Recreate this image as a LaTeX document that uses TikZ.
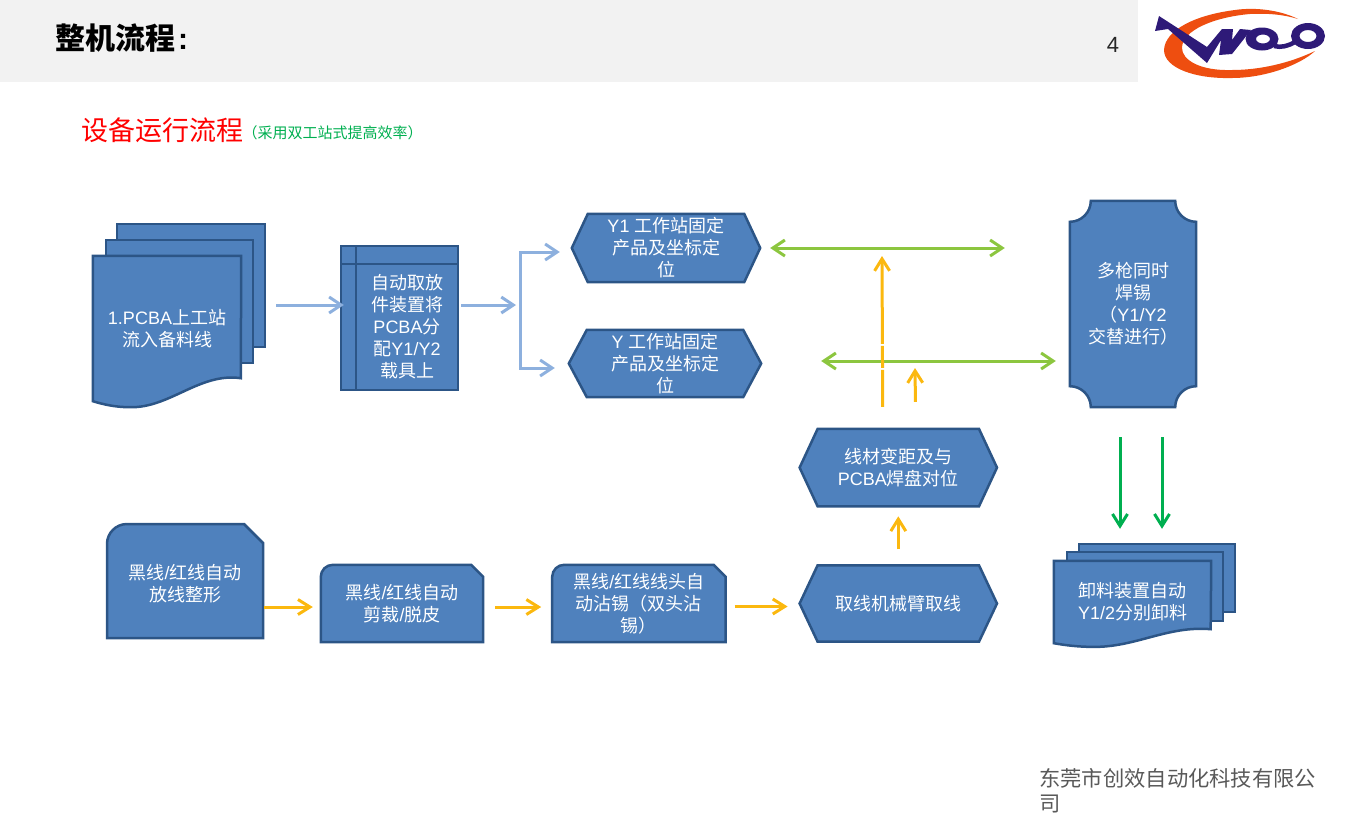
\documentclass[tikz,border=0pt]{standalone}
\usepackage{fontspec}
\usepackage{xcolor}
\setmainfont{Liberation Sans}
\newfontfamily\cjkfont{Noto Sans CJK SC}
\usetikzlibrary{arrows.meta, positioning, calc, backgrounds}
\definecolor{boxfill}{HTML}{4F81BD}
\definecolor{boxline}{HTML}{2C5586}
\definecolor{paleblue}{HTML}{8DB0DE}
\definecolor{limegreen}{HTML}{8CC63F}
\definecolor{deepgreen}{HTML}{00AF50}
\definecolor{amber}{HTML}{FBB80F}
\definecolor{logored}{HTML}{EE4E10}
\definecolor{logopurple}{HTML}{2E1A78}
\newcommand{\zh}[1]{{\cjkfont #1}}
\newcommand{\hexshape}[2]{\draw[shapebox] (#1.west) -- ([xshift=#2]#1.north west) -- ([xshift=-#2]#1.north east) -- (#1.east) -- ([xshift=-#2]#1.south east) -- ([xshift=#2]#1.south west) -- cycle;}
\newcommand{\snipshape}[3]{\draw[shapebox] (#1.south west) [rounded corners=#2] -- (#1.north west) [sharp corners] -- ([xshift=-#3]#1.north east) -- ([yshift=-#3]#1.north east) -- (#1.south east) -- cycle;}
\newcommand{\docshape}[3]{\begin{scope}[shift={(#1.south west)},xscale=#2,yscale=#3]
\draw[shapebox] (#1.south west) -- (#1.north west) -- (#1.north east) -- (148,-23) .. controls (107,-29) and (77,7) .. (37,6) .. controls (22,6) and (10,3) .. (#1.south west) -- cycle;
\end{scope}}
\begin{document}
\begin{tikzpicture}[
  x=1pt, y=-1pt,
  flowbox/.style={rectangle, inner sep=0pt, align=center, text=white, font=\fontsize{18}{22}\selectfont},
  shapebox/.style={draw=boxline, fill=boxfill, line width=2.5pt, line join=miter},
  blueflow/.style={draw=paleblue, line width=3pt, -{Straight Barb[length=12pt,width=16pt]}},
  amberflow/.style={draw=amber, line width=3pt, -{Straight Barb[length=12pt,width=15pt]}},
  limeflow/.style={draw=limegreen, line width=3pt, {Straight Barb[length=12pt,width=16pt]}-{Straight Barb[length=12pt,width=16pt]}},
  greenflow/.style={draw=deepgreen, line width=3pt, -{Straight Barb[length=12pt,width=15pt]}},
]
\useasboundingbox (0,0) rectangle (1370,815);
\fill[gray!10] (0,0) rectangle (1138,82);
\node[anchor=west, inner sep=0pt, font=\fontsize{30}{36}\selectfont\bfseries] (title) at (55,38) {\zh{整机流程}\kern3pt:};
\node[inner sep=0pt, text=black!85, font=\fontsize{22}{26}\selectfont] (pageno) at (1113,45) {4};
\node[anchor=west, inner sep=0pt, text=red, font=\fontsize{27}{32}\selectfont] (runtitle) at (81,130) {\zh{设备运行流程}};
\node[inner sep=0pt, text=deepgreen, font=\fontsize{15}{18}\selectfont, right=-1pt of runtitle, yshift=-3pt] (runnote) {\zh{（采用双工站式提高效率）}};
\node[anchor=north west, inner sep=0pt, align=left, text=black!65, font=\fontsize{21.3}{25}\selectfont] (company) at (1039,768) {\zh{东莞市创效自动化科技有限公}\\\zh{司}};

\node[flowbox, minimum width=148pt, minimum height=145pt] (pcba) at (167,328.5) {1.PCBA\zh{上工站}\\\zh{流入备料线}};
\node[flowbox, minimum width=102pt, minimum height=126pt] (alloc) at (407,327) {\zh{自动取放}\\\zh{件装置将}\\PCBA\zh{分}\\\zh{配}Y1/Y2\\\zh{载具上}};
\node[flowbox, minimum width=188pt, minimum height=68pt] (yone) at (666,248) {Y1 \zh{工作站固定}\\\zh{产品及坐标定}\\\zh{位}};
\node[flowbox, minimum width=192pt, minimum height=67pt] (ytwo) at (665,363.5) {Y \zh{工作站固定}\\\zh{产品及坐标定}\\\zh{位}};
\node[flowbox, minimum width=126pt, minimum height=206pt] (solder) at (1133,304) {\zh{多枪同时}\\\zh{焊锡}\\\zh{（}Y1/Y2\\\zh{交替进行）}};
\node[flowbox, minimum width=156pt, minimum height=114pt] (shape) at (185,584) {\zh{黑线}/\zh{红线自动}\\\zh{放线整形}};
\node[flowbox, minimum width=162pt, minimum height=77pt] (cut) at (402,603.5) {\zh{黑线}/\zh{红线自动}\\\zh{剪裁}/\zh{脱皮}};
\node[flowbox, minimum width=173pt, minimum height=77pt, right=69pt of cut] (dip) {\zh{黑线}/\zh{红线线头自}\\\zh{动沾锡（双头沾}\\\zh{锡）}};
\node[flowbox, minimum width=197pt, minimum height=76pt, right=74pt of dip] (pick) {\zh{取线机械臂取线}};
\node[flowbox, minimum width=197pt, minimum height=77pt, above=59pt of pick] (wire) {\zh{线材变距及与}\\PCBA\zh{焊盘对位}};
\node[flowbox, minimum width=157pt, minimum height=82pt] (unload) at (1132.5,602) {\zh{卸料装置自动}\\Y1/2\zh{分别卸料}};

\begin{scope}[on background layer]
\draw[shapebox] (117,224) rectangle (265,347);
\draw[shapebox] (106,240) rectangle (253,363);
\docshape{pcba}{1}{1}
\draw[shapebox] ([xshift=-15pt,yshift=18pt]alloc.north west) rectangle (alloc.south east);
\draw[boxline, line width=2.5pt] ([yshift=18pt]alloc.north west) -- (alloc.south west);
\draw[boxline, line width=2.5pt] ([xshift=-15pt]alloc.north west) -- (alloc.north east);
\hexshape{yone}{16pt}
\hexshape{ytwo}{18pt}
\draw[shapebox] ([yshift=-21pt]solder.north west) arc[start angle=-90, end angle=0, radius=21pt] -- ([xshift=-21pt]solder.north east) arc[start angle=180, end angle=270, radius=21pt] -- ([yshift=21pt]solder.south east) arc[start angle=90, end angle=180, radius=21pt] -- ([xshift=21pt]solder.south west) arc[start angle=0, end angle=90, radius=21pt] -- cycle;
\draw[shapebox] (107,638) [rounded corners=20pt] -- (107,524) [sharp corners] -- (244,524) -- (263,543) -- (263,638) -- cycle;
\snipshape{cut}{12pt}{12pt}
\snipshape{dip}{12pt}{12pt}
\hexshape{pick}{18pt}
\hexshape{wire}{18pt}
\draw[shapebox] (1079,544) rectangle (1235,612);
\draw[shapebox] (1067,552) rectangle (1223,621);
\docshape{unload}{1.06}{0.61}
\end{scope}

\coordinate (bus) at (520,305);
\coordinate (railtop) at (882,256);
\coordinate (railmid) at (915,368);
\draw[blueflow, shorten <=35pt, shorten >=12pt] ([yshift=23.5pt]pcba.east) -- ([yshift=22pt]alloc.west);
\draw[blueflow, shorten <=3pt, shorten >=4pt] ([yshift=22pt]alloc.east) -- (bus);
\draw[blueflow, shorten >=12pt] (bus) |- ([yshift=-4pt]yone.west);
\draw[blueflow, shorten >=14pt] (bus) |- ([yshift=-4.5pt]ytwo.west);
\draw[limeflow, shorten <=10pt, shorten >=65pt] (yone.east) -- (yone.east -| solder.west);
\draw[limeflow, shorten <=60pt, shorten >=14pt] ([yshift=2.5pt]ytwo.east) -- ([yshift=2.5pt]ytwo.east -| solder.west);
\draw[amberflow, shorten <=22pt, dash pattern=on 37pt off 2pt on 22pt off 2pt on 200pt] ([xshift=-15.5pt]wire.north) -- (railtop);
\draw[amberflow, shorten <=27pt] ([xshift=17.5pt]wire.north) -- (railmid);
\draw[amberflow, shorten <=1pt, shorten >=8pt] ([yshift=-23pt]shape.east) -- ([yshift=-3.5pt]cut.west);
\draw[amberflow, shorten <=12pt, shorten >=11pt] ([yshift=-3.5pt]cut.east) -- ([yshift=-3.5pt]dip.west);
\draw[amberflow, shorten <=9pt, shorten >=12pt] ([yshift=-3pt]dip.east) -- ([yshift=-3pt]pick.west);
\draw[amberflow, shorten <=16pt, shorten >=10pt] (pick.north) -- (wire.south);
\draw[greenflow, shorten <=30pt, shorten >=32pt] ([xshift=-13pt]solder.south) -- ([xshift=-12.5pt]unload.north);
\draw[greenflow, shorten <=30pt, shorten >=32pt] ([xshift=29pt]solder.south) -- ([xshift=29.5pt]unload.north);

\fill[logored] (1298,19) .. controls (1280,10) and (1255,7) .. (1235,10) .. controls (1195,15) and (1165,30) .. (1164,50) .. controls (1164,68) and (1195,79) .. (1232,78) .. controls (1265,78) and (1300,65) .. (1315,51) .. controls (1290,63) and (1260,70) .. (1232,70) .. controls (1200,71) and (1182,60) .. (1182,48) .. controls (1182,30) and (1215,17) .. (1250,14) .. controls (1270,13) and (1285,15) .. (1298,19) -- cycle;
\fill[logopurple] (1159,16) -- (1155,31) -- (1168,29) -- (1207,63) -- (1221,40) -- (1219,55) -- (1232,54) -- (1251,30) -- (1240,29) -- (1232,40) -- (1233,29) -- (1222,29) -- (1207,47) -- cycle;
\fill[logopurple, even odd rule] (1262,39) ellipse[x radius=16.5, y radius=11.5] (1263,39) ellipse[x radius=7, y radius=4.5];
\fill[logopurple, even odd rule] (1308,36) ellipse[x radius=17, y radius=13] (1308,36) ellipse[x radius=8.5, y radius=6];
\draw[logopurple, line width=4.5pt] (1274,46) .. controls (1281,48) and (1288,46) .. (1295,42);
\end{tikzpicture}
\end{document}
